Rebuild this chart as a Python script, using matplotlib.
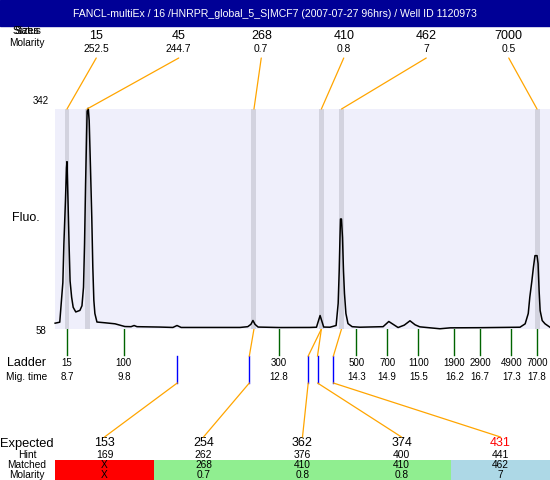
import numpy as np
import matplotlib
matplotlib.use("Agg")
import matplotlib.pyplot as plt
from matplotlib.patches import Rectangle, ConnectionPatch
from matplotlib.transforms import blended_transform_factory

plt.rcParams["font.family"] = ["Liberation Sans", "DejaVu Sans"]

titulo = "FANCL-multiEx / 16 /HNRPR_global_5_S|MCF7 (2007-07-27 96hrs) / Well ID 1120973"

# escada (ladder): tamanho -> tempo de migração
ladder_sizes = [15, 100, 300, 500, 700, 1100, 1900, 2900, 4900, 7000]
ladder_times = [8.7, 9.8, 12.8, 14.3, 14.9, 15.5, 16.2, 16.7, 17.3, 17.8]

# picos detectados
peak_sizes = [15, 45, 268, 410, 462, 7000]
peak_molarity = ["252.5", "244.7", "0.7", "0.8", "7", "0.5"]

# tabela de baixo
expected = [153, 254, 362, 374, 431]
hint = [169, 262, 376, 400, 441]
matched = ["X", "268", "410", "410", "462"]
matched_molarity = ["X", "0.7", "0.8", "0.8", "7"]
status = ["missing", "ok", "ok", "ok", "other"]

# eletroferograma (tempo, fluorescência)
trace_time = [8.47, 8.56, 8.62, 8.64, 8.67, 8.69, 8.70, 8.72, 8.74, 8.76, 8.79,
              8.82, 8.87, 8.95, 8.99, 9.02, 9.04, 9.06, 9.08, 9.09, 9.11, 9.13,
              9.155, 9.18, 9.20, 9.22, 9.24, 9.28, 9.44, 9.63, 9.82, 9.94, 10.0,
              10.055, 10.50, 10.75, 10.83, 10.91, 11.3, 12.05, 12.2, 12.26, 12.30,
              12.34, 12.40, 12.82, 13.4, 13.53, 13.60, 13.67, 13.79, 13.91, 13.95,
              13.97, 13.985, 13.995, 14.014, 14.034, 14.053, 14.072, 14.10, 14.14,
              14.22, 14.37, 14.82, 14.93, 15.11, 15.23, 15.34, 15.44, 15.53, 15.92,
              16.12, 16.70, 17.47, 17.57, 17.63, 17.66, 17.70, 17.73, 17.76, 17.80,
              17.82, 17.84, 17.86, 17.90, 17.955, 18.05]
trace_fluo = [65.5, 66.8, 118, 168, 223, 266, 274, 223, 168, 120, 99,
              86, 80, 82, 88, 112, 168, 245, 310, 339, 343, 327,
              266, 202, 138, 95, 78, 67, 66, 64.7, 61.2, 61, 62.5,
              61, 60.5, 60, 62.5, 60, 60, 60, 61, 64, 69,
              64, 60.5, 59.9, 60, 60.3, 75.4, 60.5, 60.3, 62.5, 91,
              133, 176, 200, 200, 176, 133, 104, 78, 65,
              61, 60.3, 61, 67.7, 59.9, 63, 68.6, 63.4, 60.8, 58.3,
              59.5, 59.7, 60.3, 64.7, 78, 99, 120, 137.6, 152.7, 152.7,
              142.4, 107.6, 81.8, 68.9, 64.7, 60.3]

laranja = "#FFA500"

fig = plt.figure(figsize=(5.5, 4.8), dpi=100)

# eixo "sobreposto" em pixels para textos e tabela
ov = fig.add_axes([0, 0, 1, 1])
ov.set_xlim(0, 550)
ov.set_ylim(480, 0)
ov.axis("off")

# área do gráfico
ax = fig.add_axes([55 / 550, (480 - 329) / 480, 495 / 550, 220 / 480])
ax.set_facecolor("#EFEFFB")
ax.set_xlim(8.468, 18.051)
ax.set_ylim(58, 342)
ax.set_xticks([])
ax.set_yticks([])
for s in ax.spines.values():
    s.set_visible(False)

bt = blended_transform_factory(ax.transData, ov.transData)

peak_times = np.interp(peak_sizes, ladder_sizes, ladder_times)
hint_times = np.interp(hint, ladder_sizes, ladder_times)

for t in peak_times:
    ax.axvspan(t - 0.048, t + 0.048, color="#D3D3DF", zorder=1, lw=0)
ax.plot(trace_time, trace_fluo, color="black", lw=1.1, zorder=3, clip_on=False)

# cabeçalho
ov.add_patch(Rectangle((0, 0), 550, 26, color="#000096"))
ov.text(275, 14, titulo, color="white", ha="center", va="center", fontsize=7.6)

# rótulos de cima
ov.text(27, 30.5, "Sizes", ha="center", va="center", fontsize=7.3)
ov.text(27, 30.5, "Status", ha="center", va="center", fontsize=7.3)
ov.text(27, 42.5, "Molarity", ha="center", va="center", fontsize=7.3)
larg_top = 495 / len(peak_sizes)
for i, (tam, mol, t) in enumerate(zip(peak_sizes, peak_molarity, peak_times)):
    cx = 55 + larg_top * (i + 0.5)
    ov.text(cx, 36, str(tam), ha="center", va="center", fontsize=9)
    ov.text(cx, 49.5, mol, ha="center", va="center", fontsize=7.4)
    con = ConnectionPatch(xyA=(cx, 58), coordsA=ov.transData,
                          xyB=(t, 342), coordsB=ax.transData,
                          color=laranja, lw=0.9)
    fig.add_artist(con)

# eixo y
ov.text(41, 101, "342", ha="center", va="center", fontsize=7)
ov.text(41, 330.5, "58", ha="center", va="center", fontsize=7)
ov.text(26, 218, "Fluo.", ha="center", va="center", fontsize=9)

# escada
ov.text(27, 363.5, "Ladder", ha="center", va="center", fontsize=9)
ov.text(27, 376.5, "Mig. time", ha="center", va="center", fontsize=7.3)
for tam, t in zip(ladder_sizes, ladder_times):
    ov.plot([t, t], [329, 355], transform=bt, color="#006400", lw=1)
    ov.text(t, 363.5, str(tam), transform=bt, ha="center", va="center", fontsize=7)
    ov.text(t, 376.5, str(t), transform=bt, ha="center", va="center", fontsize=7)

# linhas dos valores esperados
larg_col = 495 / len(expected)
for i, t in enumerate(hint_times):
    cx = 55 + larg_col * (i + 0.5)
    ov.plot([t, t], [356, 383], transform=bt, color="blue", lw=1)
    if matched[i] != "X":
        tp = np.interp(float(matched[i]), ladder_sizes, ladder_times)
        ov.plot([t, tp], [356, 329], transform=bt, color=laranja, lw=0.9)
    con = ConnectionPatch(xyA=(t, 383), coordsA=bt,
                          xyB=(cx, 437), coordsB=ov.transData,
                          color=laranja, lw=0.9)
    fig.add_artist(con)

# tabela
ov.text(27, 443.5, "Expected", ha="center", va="center", fontsize=9.3)
ov.text(27, 455, "Hint", ha="center", va="center", fontsize=7.5)
ov.text(27, 465, "Matched", ha="center", va="center", fontsize=7.3)
ov.text(27, 474.5, "Molarity", ha="center", va="center", fontsize=7.3)
cores = {"missing": "#FF0000", "ok": "#90EE90", "other": "#ADD8E6"}
for i in range(len(expected)):
    x0 = 55 + larg_col * i
    cx = x0 + larg_col / 2
    ov.add_patch(Rectangle((x0, 460), larg_col, 20, color=cores[status[i]], lw=0))
    cor_txt = "red" if status[i] == "other" else "black"
    ov.text(cx, 443.5, str(expected[i]), ha="center", va="center", fontsize=9, color=cor_txt)
    ov.text(cx, 455, str(hint[i]), ha="center", va="center", fontsize=7.5)
    ov.text(cx, 465, matched[i], ha="center", va="center", fontsize=7.3)
    ov.text(cx, 474.5, matched_molarity[i], ha="center", va="center", fontsize=7.3)

plt.savefig("out.png", dpi=100)
